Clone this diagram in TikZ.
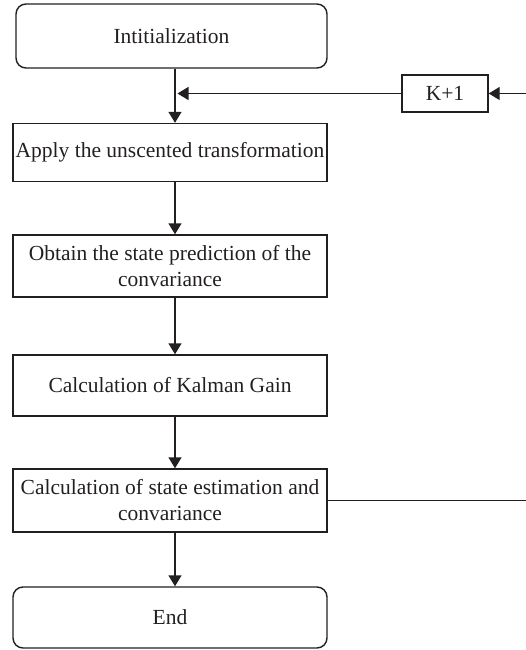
\documentclass[tikz,border=0pt]{standalone}
\usepackage{fontspec}
\setmainfont{Liberation Serif}
\usetikzlibrary{arrows.meta,calc}
\definecolor{ink}{HTML}{231F20}
\begin{document}
\begin{tikzpicture}[x=1pt,y=1pt,
  every node/.style={font=\fontsize{21.5}{26}\selectfont, text=ink},
  stepbox/.style={draw=ink, line width=1.4pt, minimum width=314pt, align=center, inner sep=2pt},
  termbox/.style={stepbox, rounded corners=10pt},
  flow/.style={draw=ink, line width=1.4pt, -{Triangle[length=11pt,width=13pt]}},
  plain/.style={draw=ink, line width=1.4pt}]
\useasboundingbox (0,0) rectangle (526,-650);

% main column of the flowchart
\node[termbox, minimum width=311pt, minimum height=64pt] (init) at (171.5,-36) {Intitialization};
\node[stepbox, minimum height=58pt] (apply) at (170,-152.5) {Apply the unscented transformation};
\node[stepbox, minimum height=62pt] (obtain) at (170,-266) {Obtain the state prediction of the\\convariance};
\node[stepbox, minimum height=61pt] (gain) at (170,-385.5) {Calculation of Kalman Gain};
\node[stepbox, minimum height=63pt] (est) at (170,-500.5) {Calculation of state estimation and\\convariance};
\node[termbox, minimum height=61pt] (end) at (170,-617.5) {End};

% iteration counter on the feedback loop
\node[stepbox, minimum width=86pt, minimum height=37pt] (inc) at (445,-93.5) {K+1};

% vertical spine carrying the arrows
\coordinate (spine) at (175,0);
\coordinate (merge) at (177.5,-93.5);
\coordinate (loop) at (540,0);

\draw[flow] (init.south -| spine) -- (apply.north -| spine);
\draw[flow] (apply.south -| spine) -- (obtain.north -| spine);
\draw[flow] (obtain.south -| spine) -- (gain.north -| spine);
\draw[flow] (gain.south -| spine) -- (est.north -| spine);
\draw[flow] (est.south -| spine) -- (end.north -| spine);

% feedback from the estimate back to the transformation step
\draw[flow] (est.east) -- (est.east -| loop) -- (inc.east -| loop) -- (inc.east);
\draw[flow] (inc.west) -- (merge);
\end{tikzpicture}
\end{document}
